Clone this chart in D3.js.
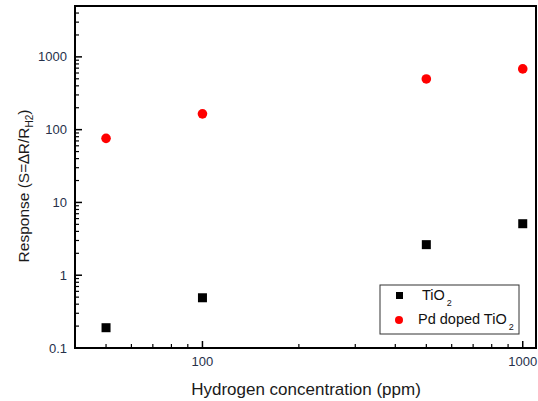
<!DOCTYPE html>
<html>
<head>
<meta charset="utf-8">
<script src="https://cdn.jsdelivr.net/npm/d3@7"></script>
<style>
  body { margin: 0; background: #fff; }
  svg { display: block; font-family: "Liberation Sans", Arial, sans-serif; }
  .tick-label { font-size: 13px; fill: #26304a; }
  .axis-title { fill: #1a1a1a; }
  .legend-text { font-size: 14.5px; fill: #111; }
</style>
</head>
<body>
<div id="chart"></div>
<script>
// values
const concentrations = [50, 100, 500, 1000];
const tio2Response = [0.19, 0.49, 2.63, 5.1];
const pdTio2Response = [76, 165, 497, 683];
const xTickValues = [100, 1000];
const yTickValues = [0.1, 1, 10, 100, 1000];

const W = 538, H = 401;
const plot = { left: 75, top: 6, right: 536, bottom: 348 };

const svg = d3.select('#chart').append('svg')
  .attr('width', W)
  .attr('height', H);

const x = d3.scaleLog().domain([40, 1100]).range([plot.left, plot.right]);
const y = d3.scaleLog().domain([0.1, 5000]).range([plot.bottom, plot.top]);

// minor ticks for each decade
function minorTicks(scale) {
  const [a, b] = scale.domain();
  const out = [];
  for (let e = Math.floor(Math.log10(a)); e <= Math.ceil(Math.log10(b)); e++) {
    for (let m = 2; m <= 9; m++) {
      const v = m * Math.pow(10, e);
      if (v > a && v < b) out.push(v);
    }
  }
  return out;
}

const axisColor = '#000';
const g = svg.append('g');

// x ticks (pointing inward)
g.selectAll('.x-major').data(xTickValues).join('line')
  .attr('x1', d => x(d)).attr('x2', d => x(d))
  .attr('y1', plot.bottom).attr('y2', plot.bottom - 7)
  .attr('stroke', axisColor).attr('stroke-width', 1.5);
g.selectAll('.x-minor').data(minorTicks(x)).join('line')
  .attr('x1', d => x(d)).attr('x2', d => x(d))
  .attr('y1', plot.bottom).attr('y2', plot.bottom - 4)
  .attr('stroke', axisColor).attr('stroke-width', 1.2);

// y ticks
g.selectAll('.y-major').data(yTickValues).join('line')
  .attr('x1', plot.left).attr('x2', plot.left + 7)
  .attr('y1', d => y(d)).attr('y2', d => y(d))
  .attr('stroke', axisColor).attr('stroke-width', 1.5);
g.selectAll('.y-minor').data(minorTicks(y)).join('line')
  .attr('x1', plot.left).attr('x2', plot.left + 4)
  .attr('y1', d => y(d)).attr('y2', d => y(d))
  .attr('stroke', axisColor).attr('stroke-width', 1.2);

// frame
svg.append('rect')
  .attr('x', plot.left).attr('y', plot.top)
  .attr('width', plot.right - plot.left).attr('height', plot.bottom - plot.top)
  .attr('fill', 'none').attr('stroke', axisColor).attr('stroke-width', 2);

// tick labels
svg.selectAll('.xl').data(xTickValues).join('text')
  .attr('class', 'tick-label')
  .attr('x', d => x(d)).attr('y', plot.bottom + 18)
  .attr('text-anchor', 'middle')
  .text(d => d);
svg.selectAll('.yl').data(yTickValues).join('text')
  .attr('class', 'tick-label')
  .attr('x', plot.left - 8).attr('y', d => y(d) + 4.5)
  .attr('text-anchor', 'end')
  .text(d => d);

// axis titles
svg.append('text')
  .attr('class', 'axis-title')
  .style('font-size', '17px')
  .attr('x', 306).attr('y', 395)
  .attr('text-anchor', 'middle')
  .text('Hydrogen concentration (ppm)');

const yt = svg.append('text')
  .attr('class', 'axis-title')
  .style('font-size', '15.5px')
  .attr('transform', 'translate(29,186) rotate(-90)')
  .attr('text-anchor', 'middle');
yt.append('tspan').text('Response (S=\u2206R/R');
yt.append('tspan').attr('dy', 4).style('font-size', '10px').text('H2');
yt.append('tspan').attr('dy', -4).text(')');

// data
svg.selectAll('.sq').data(concentrations).join('rect')
  .attr('x', (d, i) => x(d) - 4.5)
  .attr('y', (d, i) => y(tio2Response[i]) - 4.5)
  .attr('width', 9).attr('height', 9)
  .attr('fill', '#000');
svg.selectAll('.dot').data(concentrations).join('circle')
  .attr('cx', d => x(d))
  .attr('cy', (d, i) => y(pdTio2Response[i]))
  .attr('r', 4.8)
  .attr('fill', '#ff0000');

// legend
const lg = svg.append('g');
lg.append('rect')
  .attr('x', 380).attr('y', 285).attr('width', 139).attr('height', 49)
  .attr('fill', '#fff').attr('stroke', '#333').attr('stroke-width', 1);
lg.append('rect').attr('x', 396).attr('y', 292).attr('width', 7).attr('height', 7).attr('fill', '#000');
lg.append('circle').attr('cx', 399).attr('cy', 320).attr('r', 4).attr('fill', '#ff0000');
const t1 = lg.append('text').attr('class', 'legend-text').attr('x', 422).attr('y', 300);
t1.append('tspan').text('TiO');
t1.append('tspan').attr('dx', 2).attr('dy', 6).style('font-size', '9px').text('2');
const t2 = lg.append('text').attr('class', 'legend-text').attr('x', 418).attr('y', 324);
t2.append('tspan').text('Pd doped TiO');
t2.append('tspan').attr('dx', 2).attr('dy', 6).style('font-size', '9px').text('2');
</script>
</body>
</html>
